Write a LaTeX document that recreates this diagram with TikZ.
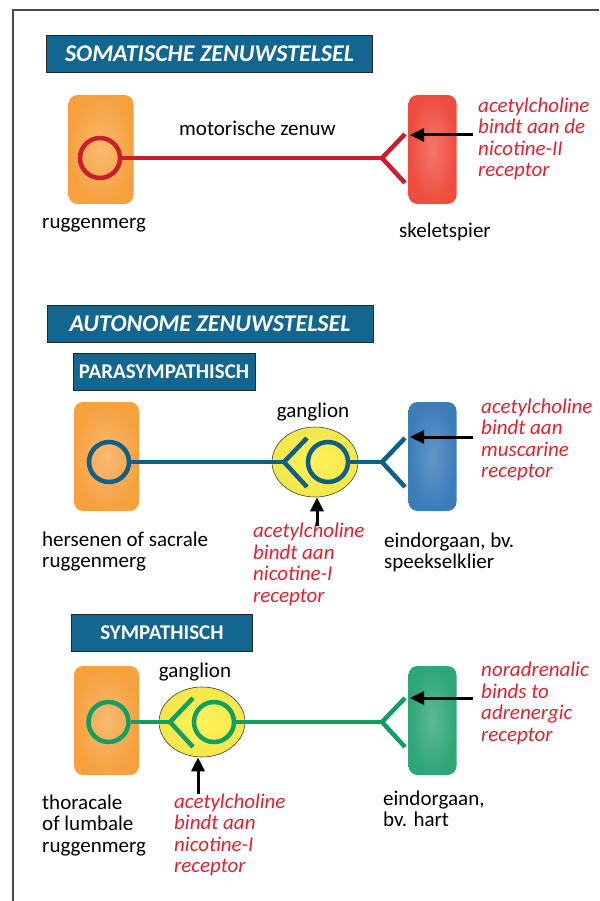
\documentclass[tikz,border=0pt]{standalone}
\usepackage{fontspec}
\setmainfont{Carlito}
\usetikzlibrary{shapes.geometric,arrows.meta,positioning}
\definecolor{titleblue}{HTML}{13668F}
\definecolor{organorange}{HTML}{F6A03E}
\definecolor{organorangec}{HTML}{F9BA72}
\definecolor{spierred}{HTML}{EF4C3F}
\definecolor{spierredc}{HTML}{F3776B}
\definecolor{organblue}{HTML}{3B7DB9}
\definecolor{organbluec}{HTML}{6296C8}
\definecolor{organgreen}{HTML}{2EA677}
\definecolor{organgreenc}{HTML}{5BBA92}
\definecolor{nervered}{HTML}{C81E2D}
\definecolor{nerveblue}{HTML}{0F5F88}
\definecolor{nervegreen}{HTML}{0F9F62}
\definecolor{gangyellow}{HTML}{F3E64A}
\definecolor{gangyellowc}{HTML}{FFF35A}
\definecolor{labelred}{HTML}{E3212F}
\begin{document}
\begin{tikzpicture}[x=1pt,y=-1pt]
\tikzset{titlebox/.style={draw=black!85, fill=titleblue, text=white, inner sep=0pt, minimum height=37pt, font=\bfseries\itshape\fontsize{24}{28}\selectfont},
  subbox/.style={draw=black!85, fill=titleblue, text=white, inner sep=0pt, minimum height=37pt, font=\bfseries\fontsize{21}{24}\selectfont},
  organ/.style={rounded corners=9pt, minimum width=65pt, minimum height=109pt, inner sep=0pt},
  soma/.style={draw, circle, line width=4.5pt, minimum size=40pt, inner sep=0pt},
  ganglion/.style={draw=black!75, line width=0.6pt, ellipse, minimum width=86pt, minimum height=70pt, inner sep=0pt, inner color=gangyellowc, outer color=gangyellow},
  nerve/.style={line width=4.5pt},
  pijl/.style={line width=3pt, -{Triangle[length=14pt,width=13pt]}},
  tekst/.style={inner sep=0pt, align=left, anchor=west, font=\fontsize{21}{21.5}\selectfont},
  rood/.style={tekst, text=labelred, font=\itshape\fontsize{21}{21.5}\selectfont}}
\useasboundingbox (0,0) rectangle (599,901);
\draw[black!70, line width=1.3pt] (13,901) -- (13,10) -- (599,10);

% somatisch
\node[titlebox, minimum width=326pt] at (209.5,53.5) (som_title) {SOMATISCHE ZENUWSTELSEL};
\node[organ, inner color=organorangec, outer color=organorange] at (101,149.5) (som_cns) {};
\node[organ, minimum width=48pt, inner color=spierredc, outer color=spierred] at (432.5,149.5) (som_spier) {};
\node[soma, draw=nervered] at (100,158) (som_soma) {};
\coordinate (som_fork) at (382,158);
\coordinate (som_arm1) at (405,134);
\coordinate (som_arm2) at (405,183);
\draw[nerve, nervered] (som_soma) -- (som_fork);
\draw[nerve, nervered] (som_arm1) -- (som_fork) -- (som_arm2);
\node[tekst] at (179,128) (som_zenuw) {motorische zenuw};
\node[tekst] at (42,225) (som_cns_lbl) {ruggenmerg};
\node[tekst] at (399,232) (som_spier_lbl) {skeletspier};
\node[rood] at (478,139) (som_note) {acetylcholine\\bindt aan de\\nicotine-II\\receptor};
\coordinate (som_tail) at (473,135);
\coordinate (som_tip) at (410,135);
\draw[pijl] (som_tail) -- (som_tip);

% autonoom
\node[titlebox, minimum width=326pt] at (210,323.5) (aut_title) {AUTONOME ZENUWSTELSEL};

% parasympathisch
\node[subbox, minimum width=182pt] at (164,371.5) (para_title) {PARASYMPATHISCH};
\node[organ, inner color=organorangec, outer color=organorange] at (106.5,456.5) (para_cns) {};
\node[organ, minimum width=48pt, inner color=organbluec, outer color=organblue] at (432.5,456.5) (para_organ) {};
\node[ganglion] at (315,462) (para_gang) {};
\node[soma, draw=nerveblue] at (109,462) (para_soma) {};
\node[soma, draw=nerveblue] at (328,462) (para_gsoma) {};
\coordinate (para_gfork) at (284,462);
\coordinate (para_garm1) at (307,438);
\coordinate (para_garm2) at (307,487);
\coordinate (para_fork) at (382,462);
\coordinate (para_arm1) at (405,438);
\coordinate (para_arm2) at (405,487);
\draw[nerve, nerveblue] (para_soma) -- (para_gfork);
\draw[nerve, nerveblue] (para_garm1) -- (para_gfork) -- (para_garm2);
\draw[nerve, nerveblue] (para_gsoma) -- (para_fork);
\draw[nerve, nerveblue] (para_arm1) -- (para_fork) -- (para_arm2);
\node[tekst, anchor=center] at (313,412) (para_gang_lbl) {ganglion};
\node[tekst] at (42,551.5) (para_cns_lbl) {hersenen of sacrale\\ruggenmerg};
\node[tekst] at (384,552.5) (para_organ_lbl) {eindorgaan, bv.\\speekselklier};
\node[rood] at (481,440) (para_note) {acetylcholine\\bindt aan\\muscarine\\receptor};
\node[rood] at (253,564.5) (para_gnote) {acetylcholine\\bindt aan\\nicotine-I\\receptor};
\coordinate (para_tail) at (473,437);
\coordinate (para_tip) at (410,437);
\draw[pijl] (para_tail) -- (para_tip);
\coordinate (para_gtail) at (317,526);
\draw[pijl] (para_gtail) -- (para_gtail |- para_gang.south);

% sympathisch
\node[subbox, minimum width=181pt] at (162,633) (sym_title) {SYMPATHISCH};
\node[organ, inner color=organorangec, outer color=organorange] at (106.5,720.5) (sym_cns) {};
\node[organ, minimum width=48pt, inner color=organgreenc, outer color=organgreen] at (432.5,720.5) (sym_organ) {};
\node[ganglion] at (202,722) (sym_gang) {};
\node[soma, draw=nervegreen] at (108.5,722) (sym_soma) {};
\node[soma, draw=nervegreen] at (214,722) (sym_gsoma) {};
\coordinate (sym_gfork) at (170,722);
\coordinate (sym_garm1) at (193,698);
\coordinate (sym_garm2) at (193,747);
\coordinate (sym_fork) at (382,722);
\coordinate (sym_arm1) at (405,698);
\coordinate (sym_arm2) at (405,747);
\draw[nerve, nervegreen] (sym_soma) -- (sym_gfork);
\draw[nerve, nervegreen] (sym_garm1) -- (sym_gfork) -- (sym_garm2);
\draw[nerve, nervegreen] (sym_gsoma) -- (sym_fork);
\draw[nerve, nervegreen] (sym_arm1) -- (sym_fork) -- (sym_arm2);
\node[tekst, anchor=center] at (195,672) (sym_gang_lbl) {ganglion};
\node[tekst] at (42,825.5) (sym_cns_lbl) {thoracale\\of lumbale\\ruggenmerg};
\node[tekst] at (383,809) (sym_organ_lbl) {eindorgaan,\\bv. hart};
\node[rood] at (481,703.5) (sym_note) {noradrenalic\\binds to\\adrenergic\\receptor};
\node[rood] at (174,835) (sym_gnote) {acetylcholine\\bindt aan\\nicotine-I\\receptor};
\coordinate (sym_tail) at (473,698);
\coordinate (sym_tip) at (410,698);
\draw[pijl] (sym_tail) -- (sym_tip);
\coordinate (sym_gtail) at (198,794);
\draw[pijl] (sym_gtail) -- (sym_gtail |- sym_gang.south);
\end{tikzpicture}
\end{document}
